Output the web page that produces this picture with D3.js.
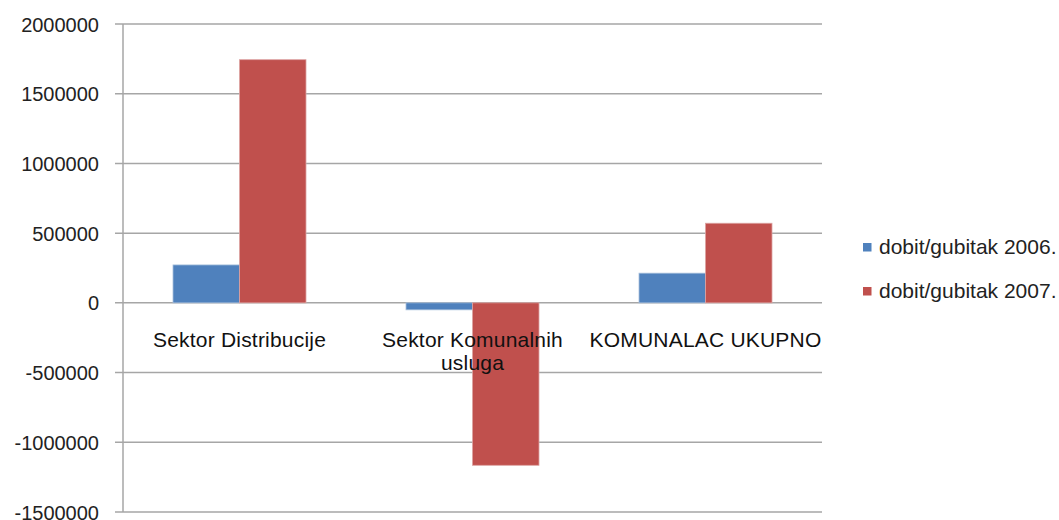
<!DOCTYPE html>
<html><head><meta charset="utf-8">
<script src="https://cdn.jsdelivr.net/npm/d3@7"></script>
<style>html,body{margin:0;padding:0;background:#fff;overflow:hidden}svg{display:block}</style>
</head><body>
<svg id="c" width="1059" height="520"></svg>
<script>
const categories = ["Sektor Distribucije", "Sektor Komunalnih usluga", "KOMUNALAC UKUPNO"];
const categoryLines = [["Sektor Distribucije"], ["Sektor Komunalnih", "usluga"], ["KOMUNALAC UKUPNO"]];
const seriesNames = ["dobit/gubitak 2006.", "dobit/gubitak 2007."];
const values2006 = [272000, -50000, 213000];
const values2007 = [1744000, -1165000, 571000];
const yTicks = [-1500000, -1000000, -500000, 0, 500000, 1000000, 1500000, 2000000];
const colors = ["#4F81BD", "#C0504D"];

const svg = d3.select("#c");
const font = "'Liberation Sans', Arial, sans-serif";
const L = 123, R = 822, T = 24, B = 512;

const y = d3.scaleLinear().domain([-1500000, 2000000]).range([B, T]);
const x0 = d3.scaleBand().domain(categories).range([L, R]).padding(0);
const x1 = d3.scaleBand().domain(seriesNames).range([0, x0.bandwidth()]).paddingInner(0).paddingOuter(0.752);

// gridlines
svg.append("g").selectAll("line").data(yTicks).join("line")
  .attr("x1", L - 8).attr("x2", R)
  .attr("y1", d => y(d)).attr("y2", d => y(d))
  .attr("stroke", "#a6a6a6").attr("stroke-width", 1.5);

// y axis
const yAxis = d3.axisLeft(y).tickValues(yTicks).tickSize(0).tickPadding(24).tickFormat(d => String(d));
const ga = svg.append("g").attr("transform", `translate(${L},0)`).call(yAxis);
ga.select(".domain").remove();
ga.selectAll("text").attr("font-family", font).attr("font-size", 20).attr("fill", "#222").attr("dy", "0.35em");
svg.append("line").attr("x1", L).attr("x2", L).attr("y1", T).attr("y2", B)
  .attr("stroke", "#a6a6a6").attr("stroke-width", 1.5);

// bars
const data = categories.map((c, i) => ({c, vals: [values2006[i], values2007[i]]}));
const g = svg.append("g");
data.forEach(d => {
  d.vals.forEach((v, j) => {
    g.append("rect")
      .attr("x", x0(d.c) + x1(seriesNames[j]))
      .attr("width", x1.bandwidth())
      .attr("y", Math.min(y(v), y(0)))
      .attr("height", Math.abs(y(v) - y(0)))
      .attr("fill", colors[j])
      .attr("stroke", j === 0 ? "#a7bfdc" : "#dca3a2").attr("stroke-width", 0.8);
  });
});

// category labels
const cl = svg.append("g");
categories.forEach((c, i) => {
  const t = cl.append("text").attr("x", x0(c) + x0.bandwidth() / 2).attr("y", 347)
    .attr("text-anchor", "middle").attr("font-family", font).attr("font-size", 21).attr("fill", "#111")
    .attr("letter-spacing", 0.2);
  categoryLines[i].forEach((ln, k) => {
    t.append("tspan").attr("x", x0(c) + x0.bandwidth() / 2).attr("dy", k === 0 ? 0 : 23).text(ln);
  });
});

// legend
const lg = svg.append("g");
seriesNames.forEach((s, j) => {
  const yy = 247 + j * 44;
  lg.append("rect").attr("x", 863).attr("y", yy - 4).attr("width", 8.5).attr("height", 8.5).attr("fill", colors[j]);
  lg.append("text").attr("x", 879).attr("y", yy).attr("dy", "0.35em")
    .attr("font-family", font).attr("font-size", 21).attr("fill", "#222").text(s);
});
</script>
</body></html>
